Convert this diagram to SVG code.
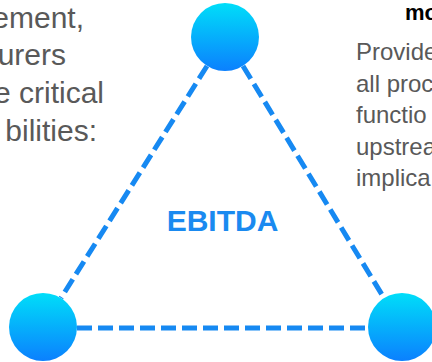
<svg xmlns="http://www.w3.org/2000/svg" width="432" height="362" viewBox="0 0 432 362">
<defs>
<linearGradient id="ball" x1="0" y1="0" x2="0" y2="1">
<stop offset="0" stop-color="#00DEF9"/>
<stop offset="1" stop-color="#0B80FE"/>
</linearGradient>
<style>
.body{font-family:"Liberation Sans",Arial,sans-serif;fill:#595959;}
.left{font-size:30px;}
.right{font-size:24px;}
.head{font-family:"Liberation Sans",Arial,sans-serif;font-weight:bold;font-size:22px;fill:#000;}
.conn{stroke:#1689F2;stroke-width:5;stroke-dasharray:15 6;fill:none;}
.node{fill:url(#ball);}
.label{font-family:"Liberation Sans",Arial,sans-serif;font-weight:bold;font-size:30px;fill:#1A8AF0;}
</style>
</defs>
<rect width="432" height="362" fill="#fff"/>
<g id="left-text" class="body left" text-anchor="end">
<text x="84" y="28">ement,</text>
<text x="66" y="65">urers</text>
<text x="104" y="103">e critical</text>
<text x="97" y="141">bilities:</text>
</g>
<g id="right-text">
<text class="head" x="405" y="20">mo</text>
<g class="body right">
<text x="356" y="60">Provide</text>
<text x="356" y="91.5">all proc</text>
<text x="356" y="123">functio</text>
<text x="356" y="154.5">upstrea</text>
<text x="356" y="186">implica</text>
</g>
</g>
<g id="connectors">
<line class="conn" x1="207" y1="66" x2="61" y2="298"/>
<line class="conn" x1="243" y1="66" x2="384" y2="298"/>
<line class="conn" x1="77" y1="328" x2="368" y2="328"/>
</g>
<g id="node-top"><circle class="node" cx="225" cy="37" r="34"/></g>
<g id="node-left"><circle class="node" cx="43" cy="327" r="34"/></g>
<g id="node-right"><circle class="node" cx="402" cy="327" r="34"/></g>
<g id="center-label"><text class="label" x="222.5" y="231" text-anchor="middle">EBITDA</text></g>
</svg>
